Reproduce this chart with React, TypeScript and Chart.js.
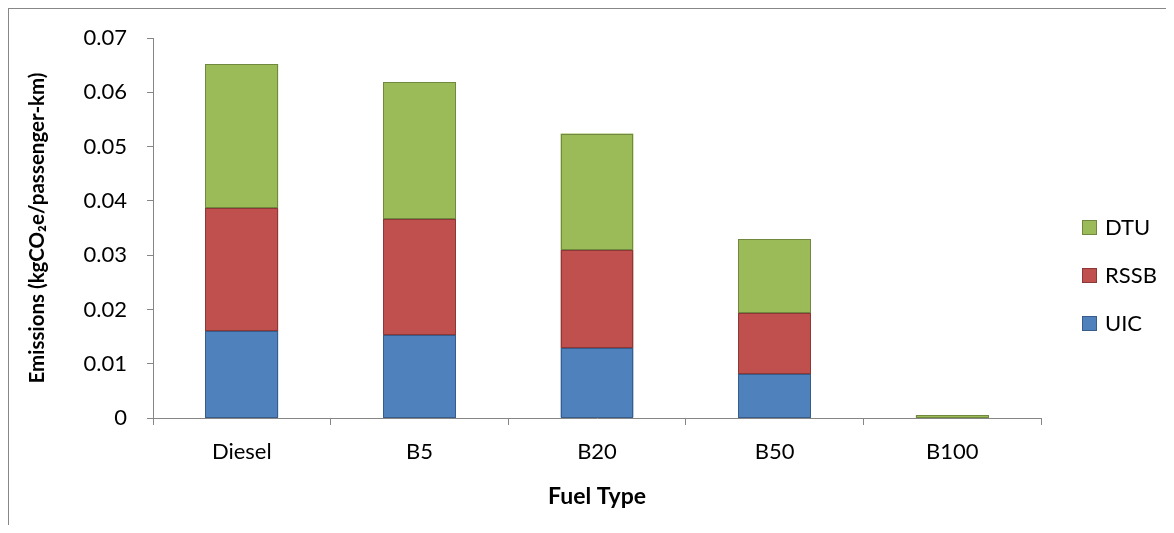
import React, { useEffect, useRef } from "react";
import { Chart, registerables } from "chart.js";

Chart.register(...registerables);

const categories = ["Diesel", "B5", "B20", "B50", "B100"];
const uicValues = [0.016, 0.0153, 0.0129, 0.0081, 0];
const rssbValues = [0.0226, 0.0214, 0.018, 0.0113, 0];
const dtuValues = [0.0266, 0.0252, 0.0215, 0.0135, 0.0005];
const yTickLabels = ["0", "0.01", "0.02", "0.03", "0.04", "0.05", "0.06", "0.07"];

const FONT = "Lato, 'Open Sans', sans-serif";
const AXIS_GRAY = "#868686";
const edgeColors = ["#385D8A", "#8C3836", "#71893F"];

const outlinePlugin = {
  id: "crispOutline",
  afterDatasetsDraw(chart: any) {
    const ctx = chart.ctx;
    ctx.save();
    ctx.lineWidth = 1;
    chart.data.datasets.forEach((_d: any, di: number) => {
      const meta = chart.getDatasetMeta(di);
      meta.data.forEach((el: any, i: number) => {
        const v = chart.data.datasets[di].data[i];
        if (!v) return;
        const { x, y, base, width } = el.getProps(["x", "y", "base", "width"], true);
        const l = Math.round(x - width / 2) + 0.5;
        const r = Math.round(x + width / 2) - 0.5;
        const t = Math.round(Math.min(y, base)) + 0.5;
        const b = Math.round(Math.max(y, base)) - 0.5;
        ctx.strokeStyle = edgeColors[di];
        ctx.strokeRect(l, t, r - l, Math.max(b - t, 1));
      });
    });
    ctx.restore();
  },
};

const legendPlugin = {
  id: "sideLegend",
  afterDraw(chart: any) {
    const ctx = chart.ctx;
    const ds = chart.data.datasets.slice().reverse();
    const cols = edgeColors.slice().reverse();
    const x0 = 1073;
    const y0 = 218;
    const gap = 48;
    const size = 15;
    ctx.save();
    ctx.font = "22px " + FONT;
    ctx.textBaseline = "middle";
    ctx.textAlign = "left";
    ds.forEach((d: any, i: number) => {
      const cy = Math.round(y0 + i * gap);
      const top = cy - Math.floor(size / 2);
      ctx.fillStyle = d.backgroundColor;
      ctx.fillRect(x0, top, size, size);
      ctx.strokeStyle = cols[i];
      ctx.lineWidth = 1;
      ctx.strokeRect(x0 + 0.5, top + 0.5, size - 1, size - 1);
      ctx.fillStyle = "#000";
      ctx.fillText(d.label, x0 + 23, cy + 1);
    });
    ctx.restore();
  },
};

export default function App() {
  const ref = useRef<HTMLCanvasElement>(null);
  useEffect(() => {
    if (!ref.current) return;
    const chart = new Chart(ref.current, {
      type: "bar",
      data: {
        labels: categories,
        datasets: [
          { label: "UIC", data: uicValues, backgroundColor: "#4F81BD", borderWidth: 0 },
          { label: "RSSB", data: rssbValues, backgroundColor: "#C0504D", borderWidth: 0 },
          { label: "DTU", data: dtuValues, backgroundColor: "#9BBB59", borderWidth: 0 },
        ],
      },
      options: {
        responsive: false,
        animation: false,
        devicePixelRatio: 1,
        layout: { padding: { left: 0, top: 29, right: 125, bottom: 0 } },
        categoryPercentage: 1,
        barPercentage: 0.41,
        plugins: { legend: { display: false }, tooltip: { enabled: false } },
        scales: {
          x: {
            stacked: true,
            afterFit: (s: any) => {
              s.height = 107;
              s.paddingLeft = 0;
              s.paddingRight = 0;
            },
            grid: { drawOnChartArea: false, drawTicks: true, tickLength: 7, color: AXIS_GRAY, offset: true },
            border: { display: true, color: AXIS_GRAY, width: 1 },
            ticks: { color: "#000", font: { family: FONT, size: 22 }, padding: 14 },
            title: { display: true, text: "Fuel Type", color: "#000", font: { family: FONT, size: 23, weight: "bold" }, padding: { top: 0, bottom: 15 } },
          },
          y: {
            stacked: true,
            min: 0,
            max: 0.07,
            afterFit: (s: any) => {
              s.width = 144;
              s.paddingTop = 0;
              s.paddingBottom = 0;
            },
            grid: { drawOnChartArea: false, drawTicks: true, tickLength: 6, color: AXIS_GRAY },
            border: { display: true, color: AXIS_GRAY, width: 1 },
            ticks: {
              stepSize: 0.01,
              color: "#000",
              font: { family: FONT, size: 22 },
              padding: 20,
              callback: (_v: any, i: number) => yTickLabels[i],
            },
            title: { display: true, text: "Emissions (kgCO₂e/passenger-km)", color: "#000", font: { family: FONT, size: 20.5, weight: "bold" }, padding: { top: 16.5, bottom: 0 } },
          },
        },
      },
      plugins: [outlinePlugin, legendPlugin],
    });
    return () => chart.destroy();
  }, []);
  return (
    <div style={{ borderTop: "1px solid #878787", borderLeft: "1px solid #878787", width: 1157, height: 516, overflow: "hidden" }}>
      <canvas ref={ref} width={1157} height={516} style={{ display: "block" }} />
    </div>
  );
}
